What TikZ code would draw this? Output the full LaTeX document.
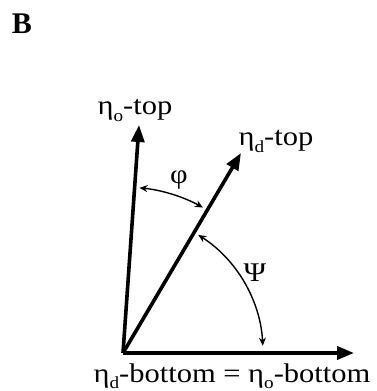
\documentclass[tikz,border=0pt]{standalone}
\usepackage{fontspec}
\setmainfont{Liberation Serif}
\newfontfamily\widefont[FakeStretch=1.13]{Liberation Serif}
\usetikzlibrary{arrows.meta}
\newcommand{\mysubscr}[1]{\raisebox{-0.25em}{\fontsize{17}{17}\selectfont #1}}
\begin{document}
\begin{tikzpicture}[x=1pt,y=1pt,
  axis/.style={line width=3.6pt,-{Triangle[length=17pt,width=13pt]}},
  angarrow/.style={line width=1.4pt,{Stealth[length=8pt,width=7pt]}-{Stealth[length=8pt,width=7pt]}},
  lbl/.style={font=\widefont\fontsize{27}{32}\selectfont, inner sep=0pt, anchor=base}]
\useasboundingbox (0,0) rectangle (376,391);
\coordinate (O) at (123,38);
\coordinate (vt) at (139,266);
\coordinate (dt) at (241,238);
\coordinate (ht) at (354,38);
\draw[axis] (O) -- (vt);
\draw[axis] (O) -- (dt);
\draw[axis] (O) -- (ht);
\draw[angarrow] ([shift={(84.3:166)}]O) arc[start angle=84.3, end angle=61.2, radius=166];
\draw[angarrow] ([shift={(57.5:140)}]O) arc[start angle=57.5, end angle=3.0, radius=140];
\node[lbl] (ot) at (135,276) {η\mysubscr{o}-top};
\node[lbl] (dtl) at (276,245) {η\mysubscr{d}-top};
\node[lbl, anchor=center] (phi) at (179,211) {φ};
\node[lbl, anchor=center] (psi) at (255,118) {Ψ};
\node[lbl] (bot) at (232,9) {η\mysubscr{d}-bottom = η\mysubscr{o}-bottom};
\node[font=\fontsize{30}{36}\selectfont\bfseries, inner sep=0pt] (B) at (22,367) {B};
\end{tikzpicture}
\end{document}
